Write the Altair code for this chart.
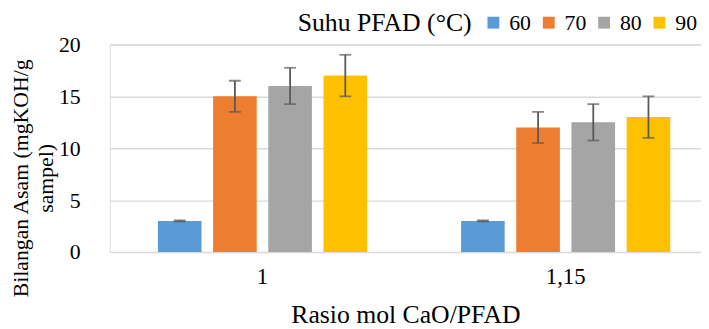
import altair as alt
import pandas as pd

categories = ["1", "1,15"]
series = ["60", "70", "80", "90"]
values_1 = [3.0, 15.0, 16.0, 17.0]
values_115 = [3.0, 12.0, 12.5, 13.0]
errors_1 = [0.05, 1.5, 1.75, 2.0]
errors_115 = [0.05, 1.5, 1.75, 2.0]
colors = ["#5B9BD5", "#ED7D31", "#A5A5A5", "#FFC000"]

rows = []
for cat, vals, errs in [(categories[0], values_1, errors_1), (categories[1], values_115, errors_115)]:
    for s, v, e in zip(series, vals, errs):
        rows.append({"rasio": cat, "suhu": s, "nilai": v, "lo": v - e, "hi": v + e})
df = pd.DataFrame(rows)

FONT = "Liberation Serif"

x_enc = alt.X("rasio:N", sort=categories,
              scale=alt.Scale(paddingInner=0.31, paddingOuter=0.13, align=0.61),
              axis=alt.Axis(title="Rasio mol CaO/PFAD", labelAngle=0, domain=False, ticks=False,
                            labelFontSize=23, titleFontSize=26, labelPadding=14, titlePadding=13,
                            labelColor="#000000", titleColor="#000000", labelFont=FONT, titleFont=FONT,
                            titleFontWeight="normal"))
xoff = alt.XOffset("suhu:N", sort=series, scale=alt.Scale(paddingInner=0.21, paddingOuter=0))
y_scale = alt.Scale(domain=[0, 20])

bars = alt.Chart(df).mark_bar().encode(
    x=x_enc,
    xOffset=xoff,
    y=alt.Y("nilai:Q", scale=y_scale,
            axis=alt.Axis(title=["Bilangan Asam (mgKOH/g", "sampel)"], values=[0, 5, 10, 15, 20],
                          domain=False, ticks=False, grid=True, gridColor="#D9D9D9", gridWidth=1.5,
                          labelFontSize=22, labelPadding=30, labelColor="#000000", labelFont=FONT,
                          titleFont=FONT, titleFontSize=22, titleFontWeight="normal", titleColor="#000000",
                          titleAngle=-90, titleAlign="center", titleBaseline="middle",
                          titleX=-90, titleY=135, titleLineHeight=25)),
    color=alt.Color("suhu:N", sort=series, scale=alt.Scale(domain=series, range=colors),
                    legend=alt.Legend(title="Suhu PFAD (°C)", orient="none", legendX=190, legendY=-33,
                                      direction="horizontal", titleOrient="left", symbolType="square",
                                      symbolSize=144, symbolStrokeWidth=0, labelFontSize=22,
                                      titleFontSize=26, titleFont=FONT, labelFont=FONT,
                                      titleFontWeight="normal", titleColor="#000000", labelColor="#000000",
                                      labelOffset=5, columnPadding=7, titlePadding=10,
                                      titleBaseline="middle", titleLimit=400)),
)

rules = alt.Chart(df).mark_rule(color="#595959", strokeWidth=1.8).encode(
    x=alt.X("rasio:N", sort=categories), xOffset=xoff,
    y=alt.Y("lo:Q", scale=y_scale), y2="hi:Q")

caps_lo = alt.Chart(df).mark_tick(color="#595959", size=12, thickness=1.8, orient="horizontal").encode(
    x=alt.X("rasio:N", sort=categories), xOffset=xoff, y=alt.Y("lo:Q", scale=y_scale))
caps_hi = alt.Chart(df).mark_tick(color="#595959", size=12, thickness=1.8, orient="horizontal").encode(
    x=alt.X("rasio:N", sort=categories), xOffset=xoff, y=alt.Y("hi:Q", scale=y_scale))

chart = alt.layer(bars, rules, caps_lo, caps_hi).properties(
    width=598, height=210,
    autosize=alt.AutoSizeParams(type="none"),
    padding={"left": 103, "top": 35, "right": 0, "bottom": 75},
).configure_view(stroke=None).configure(background="white", font=FONT)

chart.save("out.html", embed_options={"renderer": "svg", "actions": False})
